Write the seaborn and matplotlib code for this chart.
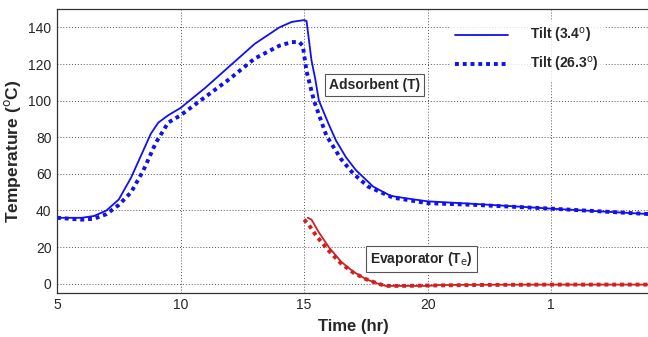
import seaborn as sns
import pandas as pd
import matplotlib.pyplot as plt

# data (time in hr, temperature in C)
ads_t1 = [5, 6, 6.5, 7, 7.5, 8, 8.5, 8.8, 9.1, 9.5, 10, 11, 12, 13, 14, 14.5, 15, 15.1, 15.3, 15.45, 15.6,
          16, 16.3, 16.7, 17.1, 17.8, 18.5, 19.2, 20, 22, 25, 27, 29]
ads_v1 = [36, 36, 37, 40, 46, 58, 73, 82, 88, 92, 96, 107, 119, 131, 140, 143, 144, 143.5, 122, 112, 100,
          87, 78, 69, 62, 53, 48, 46.5, 45, 43.5, 41, 39.5, 38]
ads_t2 = [5, 6, 6.5, 7, 7.5, 8, 8.5, 9, 9.5, 10, 11, 12, 13, 14, 14.5, 14.8, 14.95, 15.1, 15.4,
          15.9, 16.5, 17, 17.6, 18.6, 20, 22, 25, 27, 29]
ads_v2 = [36, 35, 35.5, 38, 43, 50, 62, 77, 88, 92, 102, 112, 123, 130, 132, 132, 130, 116, 100,
          81, 68, 60, 53, 47, 44, 43, 41, 39.5, 38]
evp_t1 = [15.15, 15.3, 15.6, 16, 16.5, 17, 17.5, 18, 18.3, 19, 20, 20.5, 22, 25, 29]
evp_v1 = [36, 35, 28, 20, 12, 6.5, 2.5, 0, -1.2, -1.2, -1.2, -0.7, -0.6, -0.5, -0.5]
evp_t2 = [15.0, 15.2, 15.5, 16, 16.5, 17, 17.5, 18, 18.3, 19, 20, 22, 25, 29]
evp_v2 = [35, 32, 26, 18, 11, 6, 2.5, 0, -1.2, -1.2, -1.0, -0.7, -0.5, -0.5]

x_ticks = [5, 10, 15, 20, 25]
x_tick_labels = ['5', '10', '15', '20', '1']
y_ticks = [0, 20, 40, 60, 80, 100, 120, 140]

sns.set_theme(style='whitegrid')
plt.rcParams['font.family'] = ['Liberation Sans', 'DejaVu Sans']

fig = plt.figure(figsize=(6.48, 3.37), dpi=100)
ax = fig.add_axes([0.088, 0.131, 0.915, 0.842])

blue = '#1010f0'
red = '#d02020'
dots = (0, (1, 1))

sns.lineplot(x=ads_t1, y=ads_v1, ax=ax, color=blue, lw=1.3, label='Tilt (3.4$^{\\mathrm{o}}$)')
sns.lineplot(x=ads_t2, y=ads_v2, ax=ax, color=blue, lw=2.8, linestyle=dots,
             label='Tilt (26.3$^{\\mathrm{o}}$)')
sns.lineplot(x=evp_t1, y=evp_v1, ax=ax, color=red, lw=1.3, legend=False)
sns.lineplot(x=evp_t2, y=evp_v2, ax=ax, color=red, lw=2.8, linestyle=dots, legend=False)

ax.set_xlim(5, 29)
ax.set_ylim(-5, 150)
ax.set_xticks(x_ticks)
ax.set_xticklabels(x_tick_labels)
ax.set_yticks(y_ticks)
ax.tick_params(labelsize=10, length=3, direction='in', pad=4)
ax.grid(True, color='#555555', linestyle=(0, (1, 2)), linewidth=0.7)
for s in ax.spines.values():
    s.set_color('#333333')
    s.set_linewidth(0.9)

ax.set_xlabel('Time (hr)', fontsize=12, fontweight='bold', labelpad=5)
ax.set_ylabel('Temperature ($^{\\mathrm{o}}$C)', fontsize=12.5, fontweight='bold', labelpad=4)

box = dict(boxstyle='square,pad=0.3', fc='white', ec='#555555', lw=0.8)
ax.text(17.85, 108.5, 'Adsorbent (T)', fontsize=10, fontweight='bold', ha='center', va='center', bbox=box)
ax.text(19.75, 13.6, 'Evaporator (T$_\\mathrm{e}$)', fontsize=10, fontweight='bold', ha='center', va='center', bbox=box)

leg = ax.legend(loc='upper right', bbox_to_anchor=(0.935, 0.985), frameon=True, fontsize=10,
                handlelength=3.8, labelspacing=0.75, handletextpad=1.6)
leg.get_frame().set_facecolor('white')
leg.get_frame().set_edgecolor('white')
for t in leg.get_texts():
    t.set_fontweight('bold')

fig.savefig('out.png', dpi=100)
